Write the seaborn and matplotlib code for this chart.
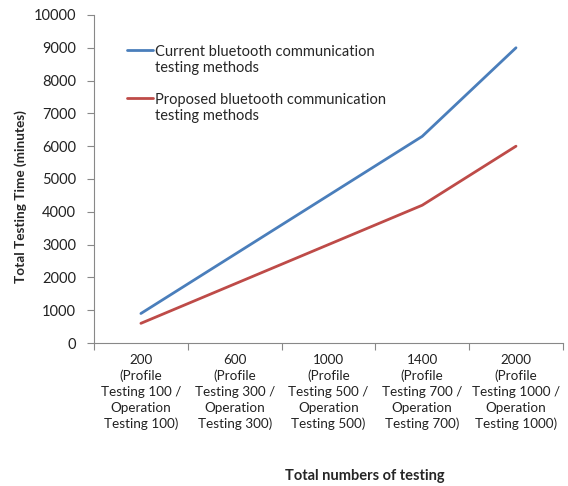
import matplotlib
matplotlib.use("Agg")
import matplotlib.pyplot as plt
import seaborn as sns
import pandas as pd
import numpy as np

categories = [
    "200\n(Profile\nTesting 100 /\nOperation\nTesting 100)",
    "600\n(Profile\nTesting 300 /\nOperation\nTesting 300)",
    "1000\n(Profile\nTesting 500 /\nOperation\nTesting 500)",
    "1400\n(Profile\nTesting 700 /\nOperation\nTesting 700)",
    "2000\n(Profile\nTesting 1000 /\nOperation\nTesting 1000)",
]
current = [900, 2700, 4500, 6300, 9000]
proposed = [600, 1800, 3000, 4200, 6000]
series_names = ["Current bluetooth communication\ntesting methods",
                "Proposed bluetooth communication\ntesting methods"]

sns.set_style("white")
plt.rcParams['font.family'] = ['Lato', 'DejaVu Sans']

df = pd.DataFrame({
    "pos": list(range(len(categories))) * 2,
    "val": current + proposed,
    "series": [series_names[0]] * 5 + [series_names[1]] * 5,
})

fig = plt.figure(figsize=(5.68, 4.86), dpi=100)
ax = fig.add_axes([0.1655, 0.2942, 0.8255, 0.675])
sns.lineplot(data=df, x="pos", y="val", hue="series",
             palette=["#4A7EBB", "#BE4B48"], linewidth=2, ax=ax)

ax.set_xlim(-0.5, 4.5)
ax.set_ylim(0, 10000)
ax.set_yticks(np.arange(0, 10001, 1000))
ax.set_xticks(range(len(categories)))
ax.set_xticklabels(categories, fontsize=9.7, color="#222222", linespacing=1.36)
ax.set_xticks(np.arange(-0.5, 4.51, 1), minor=True)
ax.tick_params(axis="x", which="major", length=0, pad=8)
ax.tick_params(axis="x", which="minor", length=5, color="#888888", width=0.8, bottom=True)
ax.tick_params(axis="y", length=5, color="#888888", width=0.8, left=True, labelsize=10.5,
               labelcolor="#222222", pad=8)
for s in ["top", "right"]:
    ax.spines[s].set_visible(False)
for s in ["left", "bottom"]:
    ax.spines[s].set_color("#888888")
    ax.spines[s].set_linewidth(0.8)

ax.set_ylabel("")
ax.set_xlabel("")
fig.text(21 / 568, 1 - 197 / 486, "Total Testing Time (minutes)", fontsize=9.8,
         fontweight="bold", rotation=90, ha="center", va="center")
fig.text(365 / 568, 1 - 476 / 486, "Total numbers of testing", fontsize=10.5,
         fontweight="bold", ha="center", va="center")

leg = ax.legend(loc="upper left", bbox_to_anchor=(0.057, 0.925), frameon=False,
                fontsize=10.5, handlelength=1.8, handletextpad=0.15, labelspacing=1.25,
                borderaxespad=0)
for t in leg.get_texts():
    t.set_linespacing(1.15)
for ln in leg.get_lines():
    y = np.asarray(ln.get_ydata(), dtype=float)
    ln.set_ydata(y + 7.5)

fig.savefig("out.png", dpi=100)
